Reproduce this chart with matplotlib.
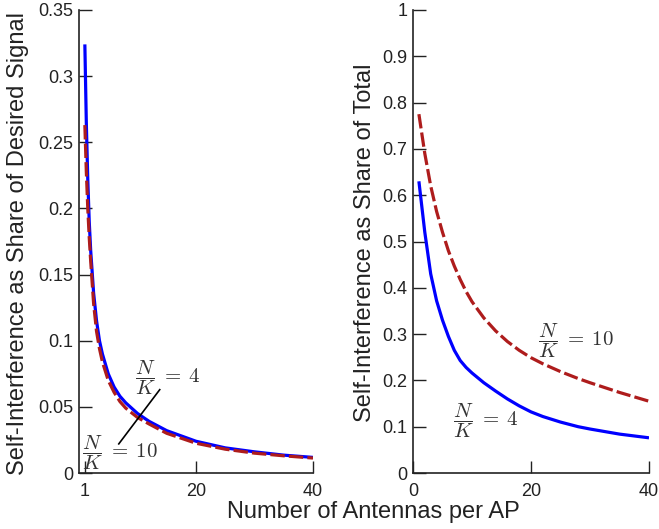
import matplotlib
matplotlib.use("Agg")
import matplotlib.pyplot as plt
from matplotlib.ticker import FormatStrFormatter

plt.rcParams['font.family'] = ['Liberation Sans', 'DejaVu Sans']
plt.rcParams['mathtext.fontset'] = 'cm'

# antennas per AP
m_left = [1, 1.25, 1.5, 1.75, 2, 2.5, 3, 3.5, 4, 5, 6, 7, 8, 10, 12, 15,
          20, 25, 30, 35, 40]
# share of desired signal
desired_nk4 = [0.324, 0.265, 0.222, 0.190, 0.168, 0.136, 0.115, 0.100, 0.090,
               0.075, 0.065, 0.058, 0.053, 0.045, 0.039, 0.032,
               0.024, 0.019, 0.016, 0.0135, 0.0118]
desired_nk10 = [0.263, 0.228, 0.200, 0.178, 0.160, 0.128, 0.107, 0.094, 0.084,
                0.070, 0.061, 0.054, 0.049, 0.042, 0.037, 0.030,
                0.0225, 0.018, 0.015, 0.013, 0.0113]

m_right = [1, 2, 3, 4, 5, 6, 7, 8, 9, 10, 12, 14, 16, 18, 20, 22, 25, 28, 30, 35, 40]
# share of total
total_nk4 = [0.630, 0.520, 0.430, 0.372, 0.330, 0.295, 0.265, 0.243, 0.228, 0.216,
             0.195, 0.177, 0.160, 0.145, 0.132, 0.122, 0.110, 0.100, 0.095, 0.084, 0.076]
total_nk10 = [0.775, 0.690, 0.620, 0.565, 0.520, 0.480, 0.447, 0.418, 0.392, 0.370,
              0.335, 0.307, 0.284, 0.265, 0.249, 0.236, 0.219, 0.204, 0.195, 0.174, 0.155]

blue = '#0000FF'
red = '#AE1C1C'
txt = '#222222'

fig = plt.figure(figsize=(6.59, 5.29), dpi=100)
ax1 = fig.add_axes([79/659, 1-473/529, (313-79)/659, 463/529])
ax2 = fig.add_axes([413/659, 1-473/529, (649-413)/659, 463/529])

ax1.plot(m_left, desired_nk4, color=blue, lw=2.3, solid_capstyle='butt')
ax1.plot(m_left, desired_nk10, color=red, lw=2.3, dashes=(4.5, 1.3))
ax2.plot(m_right, total_nk4, color=blue, lw=2.3, solid_capstyle='butt')
ax2.plot(m_right, total_nk10, color=red, lw=2.3, dashes=(4.5, 1.3))

ax1.set_xlim(0, 40)
ax1.set_ylim(0, 0.35)
ax1.set_xticks([1, 20, 40])
ax1.set_yticks([0, 0.05, 0.1, 0.15, 0.2, 0.25, 0.3, 0.35])
ax2.set_xlim(0, 40)
ax2.set_ylim(0, 1)
ax2.set_xticks([0, 20, 40])
ax2.set_yticks([0, 0.1, 0.2, 0.3, 0.4, 0.5, 0.6, 0.7, 0.8, 0.9, 1])

for ax in (ax1, ax2):
    ax.yaxis.set_major_formatter(FormatStrFormatter('%g'))
    ax.spines['top'].set_visible(False)
    ax.spines['right'].set_visible(False)
    for s in ('left', 'bottom'):
        ax.spines[s].set_linewidth(1.2)
        ax.spines[s].set_color(txt)
    ax.tick_params(direction='in', length=9, width=1.0, color=txt,
                   labelsize=13, labelcolor=txt)
    ax.tick_params(axis='x', pad=7)
    ax.tick_params(axis='y', pad=4)

lab4 = r'$\dfrac{N}{K}\;=\;4$'
lab10 = r'$\dfrac{N}{K}\;=\;10$'
lab_kw = dict(fontsize=15, color='#333333', ha='left', va='center')

# labels on the left panel
ax1.text(9.6, 0.072, lab4, **lab_kw)
ax1.text(0.5, 0.015, lab10, **lab_kw)
ax1.plot([13.8, 6.8], [0.063, 0.022], color='black', lw=1.2)

# labels on the right panel
ax2.text(21.2, 0.285, lab10, **lab_kw)
ax2.text(6.8, 0.112, lab4, **lab_kw)

fig.text(0.027, 0.539, 'Self-Interference as Share of Desired Signal',
         rotation=90, ha='center', va='center', fontsize=17, color=txt)
fig.text(365/659, 0.542, 'Self-Interference as Share of Total',
         rotation=90, ha='center', va='center', fontsize=17, color=txt)
fig.text(373.5/659, 1-518/529, 'Number of Antennas per AP',
         ha='center', va='baseline', fontsize=17, color=txt)

fig.savefig('out.png', dpi=100)
